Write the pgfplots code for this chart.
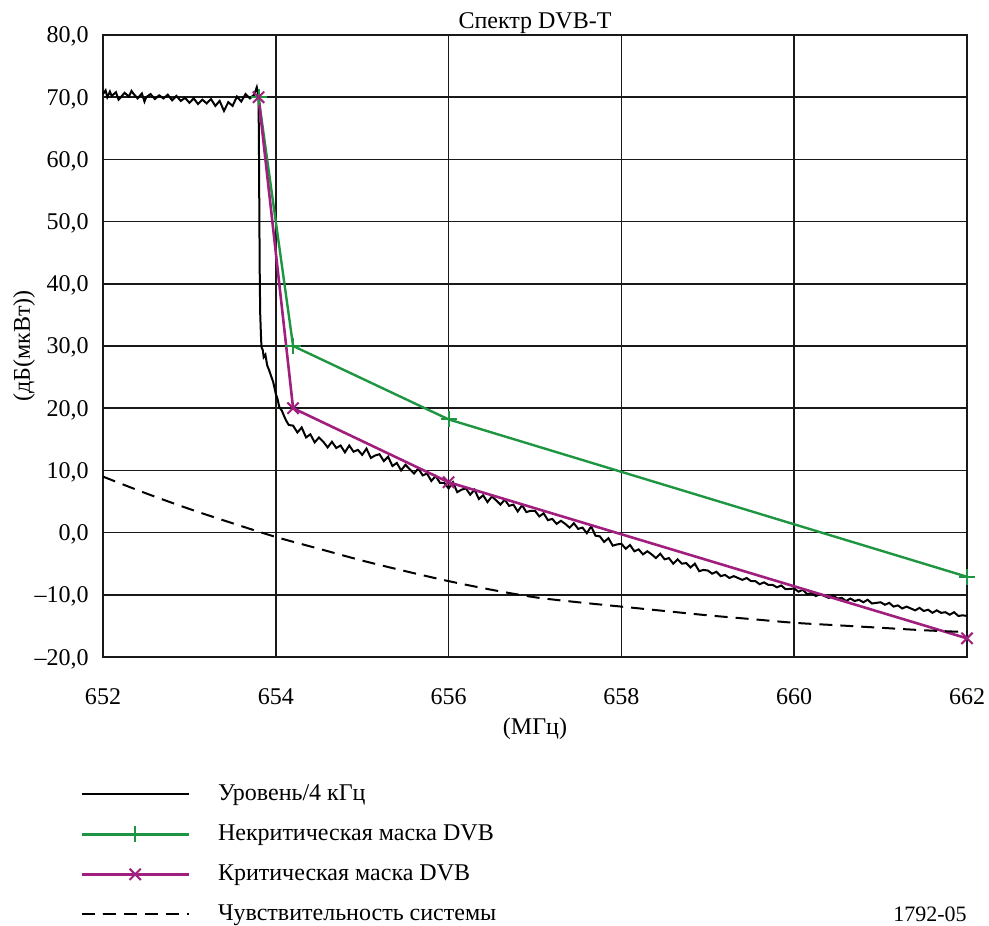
\documentclass[border=0pt]{standalone}
\usepackage{fontspec}
\setmainfont{Liberation Serif}
\usepackage{pgfplots}
\pgfplotsset{compat=1.18}
\definecolor{mgreen}{RGB}{30,150,65}
\definecolor{mmag}{RGB}{160,30,125}
\begin{document}
\begin{tikzpicture}[font=\fontsize{12}{14}\selectfont]
\useasboundingbox (-51.5pt,-134pt) rectangle (443pt,328.5pt);
\begin{axis}[
 at={(0,0)}, anchor=south west,
 width=432pt, height=311pt, scale only axis,
 xmin=652, xmax=662, ymin=-20, ymax=80,
 clip=false,
 xtick={652,654,656,658,660,662}, xticklabels={652,654,656,658,660,662},
 ytick={-20,-10,0,10,20,30,40,50,60,70,80},
 yticklabels={{–20,0},{–10,0},{0,0},{10,0},{20,0},{30,0},{40,0},{50,0},{60,0},{70,0},{80,0}},
 grid=major, major grid style={black!90, line width=0.75pt},
 axis line style={black!90, line width=0.75pt},
 major tick length=0pt,
 xticklabel style={anchor=base, yshift=-23.5pt},
 yticklabel style={anchor=base east, inner sep=0pt, xshift=-7pt, yshift=-4pt},
 every axis title/.style={at={(axis description cs:0.5,1)}, anchor=base, yshift=3pt},
 title={Спектр DVB-T},
 every axis x label/.style={at={(axis description cs:0.5,0)}, anchor=base, yshift=-38.5pt},
 xlabel={(МГц)},
 every axis y label/.style={at={(axis description cs:-0.0914,0.5)}, anchor=center, rotate=90},
 ylabel={(дБ(мкВт))},
 legend style={at={(axis description cs:-0.0266,-0.188)}, anchor=north west, draw=none, fill=none,
   inner sep=0pt, row sep=0pt, nodes={inner sep=0pt, minimum height=20pt},
   /tikz/every odd column/.append style={column sep=14pt}},
 legend cell align=left,
 legend image code/.code={\draw[mark repeat=2,mark phase=2,#1] plot coordinates {(0pt,0pt) (26.75pt,0pt) (53.5pt,0pt)};},
]
\addplot[black, line width=1pt] coordinates {
(652.00,70.5)(652.03,71.1)(652.05,70.0)(652.08,70.9)(652.10,70.2)(652.15,70.8)(652.18,69.6)(652.20,69.9)(652.25,70.7)(652.30,70.1)(652.33,71.0)(652.35,70.6)
(652.40,69.8)(652.45,70.6)(652.48,69.3)(652.50,70.0)(652.55,70.5)(652.60,69.7)(652.65,70.3)(652.70,69.8)(652.75,70.4)
(652.80,69.5)(652.85,70.2)(652.90,69.4)(652.95,69.9)(653.00,69.1)(653.05,69.8)(653.10,68.9)(653.15,69.6)
(653.20,69.0)(653.25,69.7)(653.30,68.6)(653.35,69.4)(653.40,67.8)(653.45,69.2)(653.50,68.6)(653.55,70.1)
(653.60,69.3)(653.65,70.5)(653.70,69.8)(653.75,70.4)(653.78,71.6)(653.80,70.2)
(653.805,62)(653.81,50)(653.815,40)(653.82,35)(653.83,31)(653.835,29.8)(653.85,29.3)(653.86,28.2)
(653.88,28.6)(653.90,26.9)(653.92,26.2)(653.95,25.0)(653.97,24.2)(654.00,22.3)(654.02,21.5)(654.04,20.2)
(654.07,19.6)(654.10,18.6)(654.12,18.0)(654.15,17.3)
(654.20,17.2)(654.25,16.1)(654.30,16.9)(654.35,15.3)(654.40,15.8)(654.45,14.5)(654.50,15.3)(654.55,14.6)
(654.60,13.7)(654.65,14.6)(654.70,13.6)(654.75,14.0)(654.80,12.9)(654.85,14.0)(654.90,13.0)(654.95,13.3)
(655.00,12.5)(655.05,13.5)(655.10,12.0)(655.15,12.4)(655.20,12.6)(655.25,11.5)(655.30,12.2)(655.35,10.7)
(655.40,11.2)(655.45,10.0)(655.50,10.9)(655.55,10.2)(655.60,9.5)(655.65,10.3)(655.70,9.2)(655.75,9.5)
(655.80,8.3)(655.85,9.1)(655.90,8.0)(655.95,8.0)(656.00,7.1)(656.05,8.1)(656.10,6.5)(656.15,6.9)
(656.20,7.1)(656.25,6.1)(656.30,6.9)(656.35,5.4)(656.40,6.0)(656.45,4.9)(656.50,5.8)(656.55,5.2)
(656.60,4.5)(656.65,5.3)(656.70,4.3)(656.75,4.5)(656.80,3.4)(656.85,4.4)(656.90,3.3)(656.95,3.5)
(657.00,3.5)(657.05,2.6)(657.10,3.1)(657.15,2.0)(657.20,2.2)(657.25,1.4)(657.30,1.9)(657.35,1.4)
(657.40,0.8)(657.45,1.5)(657.50,0.6)(657.55,0.8)(657.60,-0.1)(657.65,1.0)(657.70,-0.5)(657.75,-0.6)
(657.80,-1.5)(657.85,-0.9)(657.90,-2.1)(657.95,-1.9)(658.00,-1.8)(658.05,-2.6)(658.10,-2.0)(658.15,-3.0)
(658.20,-2.7)(658.25,-3.5)(658.30,-3.0)(658.35,-3.5)(658.40,-4.1)(658.45,-3.4)(658.50,-4.3)(658.55,-4.1)
(658.60,-5.0)(658.65,-4.3)(658.70,-5.0)(658.75,-4.9)(658.80,-5.6)(658.85,-5.0)(658.90,-6.2)(658.95,-6.0)
(659.00,-6.1)(659.05,-6.6)(659.10,-6.3)(659.15,-7.0)(659.20,-6.8)(659.25,-7.3)(659.30,-7.0)(659.35,-7.3)
(659.40,-7.6)(659.45,-7.3)(659.50,-7.8)(659.55,-7.8)(659.60,-8.3)(659.65,-8.0)(659.70,-8.4)(659.75,-8.4)
(659.80,-8.8)(659.85,-8.5)(659.90,-9.1)(659.95,-9.05)(660.00,-9.0)(660.05,-9.5)(660.10,-9.2)(660.15,-9.9)
(660.20,-9.7)(660.25,-10.2)(660.30,-9.9)(660.35,-10.2)(660.40,-10.5)(660.45,-10.1)(660.50,-10.6)(660.55,-10.5)
(660.60,-11.0)(660.65,-10.6)(660.70,-11.0)(660.75,-10.8)(660.80,-11.2)(660.85,-10.8)(660.90,-11.4)(660.95,-11.3)
(661.00,-11.2)(661.05,-11.6)(661.10,-11.3)(661.15,-11.9)(661.20,-11.7)(661.25,-12.2)(661.30,-11.9)(661.35,-12.2)
(661.40,-12.5)(661.45,-12.1)(661.50,-12.6)(661.55,-12.4)(661.60,-12.9)(661.65,-12.5)(661.70,-12.9)(661.75,-12.8)
(661.80,-13.2)(661.85,-12.8)(661.90,-13.4)(661.95,-13.3)(662.00,-13.4)
};
\addlegendentry{Уровень/4 кГц}
\addplot[mgreen, line width=1.2pt, mark=+, mark size=4pt, mark options={solid, line width=1pt}] coordinates {
(653.8,70)(654.2,30)(656,18.2)(662,-7.1)
};
\addlegendentry{Некритическая маска DVB}
\addplot[mmag, line width=1.3pt, mark=x, mark size=4pt, mark options={solid, line width=1pt}] coordinates {
(653.8,70)(654.2,20)(656,8.1)(662,-17.0)
};
\addlegendentry{Критическая маска DVB}
\addplot[black, line width=1pt, dash pattern=on 6.5pt off 4pt, smooth] coordinates {
(652.0,9.0)(652.5,6.3)(653.0,3.8)(653.5,1.5)(654.0,-0.7)(654.5,-2.6)(655.0,-4.5)(655.5,-6.2)
(656.0,-7.8)(656.5,-9.2)(657.0,-10.4)(657.5,-11.2)(658.0,-11.9)(658.5,-12.6)(659.0,-13.3)(659.5,-13.9)
(660.0,-14.5)(660.5,-14.9)(661.0,-15.3)(661.5,-15.7)(662.0,-16.0)
};
\addlegendentry{Чувствительность системы}
\end{axis}
\node[anchor=base east, inner sep=0pt, font=\fontsize{11}{13}\selectfont] at (432pt,-132pt) {1792-05};
\end{tikzpicture}
\end{document}
